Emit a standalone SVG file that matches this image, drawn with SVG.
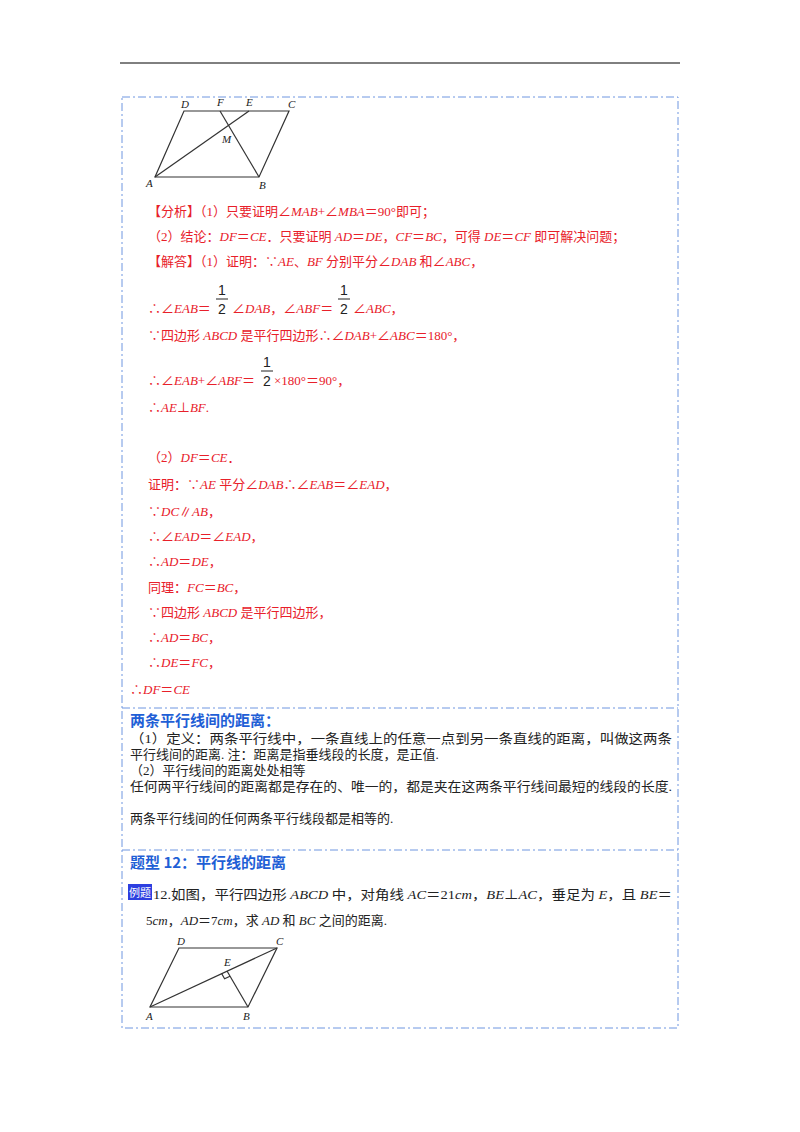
<svg xmlns="http://www.w3.org/2000/svg" width="800" height="1132" viewBox="0 0 800 1132">
<style>
.r{font-family:"Liberation Serif","Noto Sans CJK SC",serif;font-size:13px;fill:#e8202a}
.k{font-family:"Liberation Serif","Noto Sans CJK SC",serif;font-size:13px;fill:#222}
.h{font-family:"Noto Sans CJK SC",sans-serif;font-size:15px;font-weight:bold;fill:#1f5fd6}
.l{font-family:"Liberation Serif",serif;font-style:italic;font-size:11px;fill:#222}
.g{stroke:#333;stroke-width:1.2;fill:none}
.d{stroke:#6f96e0;stroke-width:1;stroke-dasharray:8,3,2,3;fill:none}
.f{font-family:"Liberation Sans",sans-serif;font-size:14px;fill:#222}
</style>
<rect width="800" height="1132" fill="#fff"/>
<line x1="120" y1="63" x2="680" y2="63" stroke="#000" stroke-width="1"/>
<g id="frame">
<rect class="d" x="122" y="97" width="556" height="931"/>
<line class="d" x1="122" y1="708" x2="678" y2="708"/>
<line class="d" x1="122" y1="850" x2="678" y2="850"/>
</g>
<g id="fig1">
<polygon class="g" points="155,177 259,177 289,111 184,111"/>
<line class="g" x1="155" y1="177" x2="249" y2="111"/>
<line class="g" x1="259" y1="177" x2="220" y2="111"/>
<text class="l" x="181" y="108">D</text><text class="l" x="217" y="106">F</text><text class="l" x="246" y="106">E</text><text class="l" x="288" y="108">C</text>
<text class="l" x="222" y="143">M</text><text class="l" x="146" y="187">A</text><text class="l" x="259" y="189">B</text>
</g>
<g id="solution">
<text class="r" x="148" y="216">【分析】（1）只要证明∠<tspan font-style="italic">MAB</tspan>+∠<tspan font-style="italic">MBA</tspan>＝90°即可；</text>
<text class="r" x="148" y="241">（2）结论：<tspan font-style="italic">DF</tspan>＝<tspan font-style="italic">CE</tspan>．只要证明 <tspan font-style="italic">AD</tspan>＝<tspan font-style="italic">DE</tspan>，<tspan font-style="italic">CF</tspan>＝<tspan font-style="italic">BC</tspan>，可得 <tspan font-style="italic">DE</tspan>＝<tspan font-style="italic">CF</tspan> 即可解决问题；</text>
<text class="r" x="148" y="266">【解答】（1）证明：∵<tspan font-style="italic">AE</tspan>、<tspan font-style="italic">BF</tspan> 分别平分∠<tspan font-style="italic">DAB</tspan> 和∠<tspan font-style="italic">ABC</tspan>，</text>
<text class="f" x="218" y="295">1</text><line x1="216" y1="299" x2="228" y2="299" stroke="#222"/><text class="f" x="218" y="314">2</text>
<text class="f" x="340" y="295">1</text><line x1="338" y1="299" x2="350" y2="299" stroke="#222"/><text class="f" x="340" y="314">2</text>
<text class="r" x="148" y="313">∴∠<tspan font-style="italic">EAB</tspan>＝</text>
<text class="r" x="232" y="313">∠<tspan font-style="italic">DAB</tspan>，∠<tspan font-style="italic">ABF</tspan>＝</text>
<text class="r" x="353" y="313">∠<tspan font-style="italic">ABC</tspan>，</text>
<text class="r" x="148" y="340">∵四边形 <tspan font-style="italic">ABCD</tspan> 是平行四边形∴∠<tspan font-style="italic">DAB</tspan>+∠<tspan font-style="italic">ABC</tspan>＝180°，</text>
<text class="f" x="263" y="367">1</text><line x1="261" y1="371" x2="273" y2="371" stroke="#222"/><text class="f" x="263" y="386">2</text>
<text class="r" x="148" y="385">∴∠<tspan font-style="italic">EAB</tspan>+∠<tspan font-style="italic">ABF</tspan>＝</text>
<text class="r" x="274" y="385">×180°＝90°，</text>
<text class="r" x="148" y="412">∴<tspan font-style="italic">AE</tspan>⊥<tspan font-style="italic">BF</tspan>.</text>
<text class="r" x="148" y="462">（2）<tspan font-style="italic">DF</tspan>＝<tspan font-style="italic">CE</tspan>．</text>
<text class="r" x="148" y="489">证明：∵<tspan font-style="italic">AE</tspan> 平分∠<tspan font-style="italic">DAB</tspan>∴∠<tspan font-style="italic">EAB</tspan>＝∠<tspan font-style="italic">EAD</tspan>，</text>
<text class="r" x="148" y="516">∵<tspan font-style="italic">DC</tspan>∥<tspan font-style="italic">AB</tspan>，</text>
<text class="r" x="148" y="541">∴∠<tspan font-style="italic">EAD</tspan>＝∠<tspan font-style="italic">EAD</tspan>，</text>
<text class="r" x="148" y="566">∴<tspan font-style="italic">AD</tspan>＝<tspan font-style="italic">DE</tspan>，</text>
<text class="r" x="148" y="592">同理：<tspan font-style="italic">FC</tspan>＝<tspan font-style="italic">BC</tspan>，</text>
<text class="r" x="148" y="617">∵四边形 <tspan font-style="italic">ABCD</tspan> 是平行四边形，</text>
<text class="r" x="148" y="642">∴<tspan font-style="italic">AD</tspan>＝<tspan font-style="italic">BC</tspan>，</text>
<text class="r" x="148" y="667">∴<tspan font-style="italic">DE</tspan>＝<tspan font-style="italic">FC</tspan>，</text>
<text class="r" x="130" y="694">∴<tspan font-style="italic">DF</tspan>＝<tspan font-style="italic">CE</tspan></text>
</g>
<g id="knowledge">
<text class="h" x="130" y="726">两条平行线间的距离：</text>
<text class="k" x="130" y="743" textLength="542" lengthAdjust="spacingAndGlyphs">（1）定义：两条平行线中，一条直线上的任意一点到另一条直线的距离，叫做这两条</text>
<text class="k" x="130" y="759">平行线间的距离. 注：距离是指垂线段的长度，是正值.</text>
<text class="k" x="130" y="775">（2）平行线间的距离处处相等</text>
<text class="k" x="130" y="791" textLength="542" lengthAdjust="spacingAndGlyphs">任何两平行线间的距离都是存在的、唯一的，都是夹在这两条平行线间最短的线段的长度.</text>
<text class="k" x="130" y="823">两条平行线间的任何两条平行线段都是相等的.</text>
</g>
<g id="example">
<text class="h" x="130" y="868">题型 12：平行线的距离</text>
<rect x="128" y="884" width="24" height="16" fill="#2d3fe0"/>
<text x="129" y="897" font-family="Noto Sans CJK SC,sans-serif" font-size="11" fill="#fff">例题</text>
<text class="k" x="153" y="899" textLength="519" lengthAdjust="spacingAndGlyphs">12.如图，平行四边形 <tspan font-style="italic">ABCD</tspan> 中，对角线 <tspan font-style="italic">AC</tspan>＝21<tspan font-style="italic">cm</tspan>，<tspan font-style="italic">BE</tspan>⊥<tspan font-style="italic">AC</tspan>，垂足为 <tspan font-style="italic">E</tspan>，且 <tspan font-style="italic">BE</tspan>＝</text>
<text class="k" x="146" y="925">5<tspan font-style="italic">cm</tspan>，<tspan font-style="italic">AD</tspan>＝7<tspan font-style="italic">cm</tspan>，求 <tspan font-style="italic">AD</tspan> 和 <tspan font-style="italic">BC</tspan> 之间的距离.</text>
</g>
<g id="fig2">
<polygon class="g" points="150,1007 248,1007 277,948 179,948"/>
<line class="g" x1="150" y1="1007" x2="277" y2="948"/>
<line class="g" x1="248" y1="1007" x2="227" y2="971"/>
<polyline class="g" points="221.6,973.5 224.6,978.7 230,976.2"/>
<text class="l" x="224" y="966">E</text><text class="l" x="177" y="945">D</text><text class="l" x="276" y="945">C</text>
<text class="l" x="146" y="1020">A</text><text class="l" x="243" y="1020">B</text>
</g>
</svg>
